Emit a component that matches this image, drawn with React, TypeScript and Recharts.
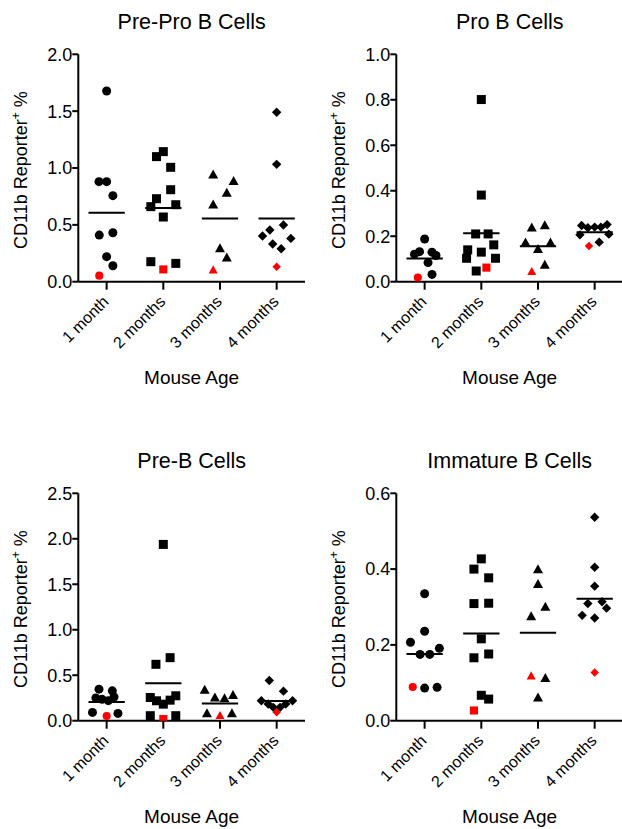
import React from "react";
import { ScatterChart, Scatter, XAxis, YAxis, ReferenceLine } from "recharts";

const FONT = "'Liberation Sans', Arial, Helvetica, sans-serif";

const MONTHS = ["1 month", "2 months", "3 months", "4 months"];

// ---- Pre-Pro B Cells ----
const preProValues = [
  [1.677, 0.88, 0.88, 0.757, 0.41, 0.431, 0.22, 0.14, 0.053],
  [1.1, 1.144, 1.006, 0.809, 0.73, 0.66, 0.677, 0.569, 0.176, 0.108, 0.161],
  [0.94, 0.883, 0.78, 0.677, 0.293, 0.211, 0.103],
  [1.49, 1.032, 0.402, 0.455, 0.499, 0.331, 0.29, 0.381, 0.132],
];
const preProJitter = [
  [0, -0.135, 0, 0.11, -0.13, 0.11, 0, 0.11, -0.13],
  [-0.12, 0, 0.13, 0.13, -0.12, -0.22, 0.22, 0, -0.22, 0, 0.22],
  [-0.12, 0.24, 0.12, -0.12, 0, 0.12, -0.12],
  [0, 0, -0.25, -0.12, 0.12, -0.07, 0.08, 0.25, 0],
];
const preProRed = [8, 9, 6, 8];
const preProTicks = [0, 0.5, 1, 1.5, 2];

// ---- Pro B Cells ----
const proBValues = [
  [0.188, 0.121, 0.132, 0.13, 0.115, 0.084, 0.032, 0.018],
  [0.801, 0.381, 0.21, 0.21, 0.162, 0.14, 0.13, 0.103, 0.103, 0.047, 0.062],
  [0.237, 0.247, 0.172, 0.172, 0.143, 0.074, 0.044],
  [0.247, 0.237, 0.24, 0.24, 0.251, 0.206, 0.209, 0.174, 0.157],
];
const proBJitter = [
  [0, -0.18, -0.09, 0.13, 0.2, 0.06, 0.13, -0.12],
  [0, 0, -0.1, 0.12, 0.22, -0.24, 0, -0.26, 0.25, -0.09, 0.09],
  [-0.11, 0.12, -0.22, 0.22, 0, 0.12, -0.11],
  [-0.23, -0.12, 0, 0.11, 0.22, -0.26, 0.25, 0.08, -0.1],
];
const proBRed = [7, 10, 6, 8];
const proBTicks = [0, 0.2, 0.4, 0.6, 0.8, 1.0];

// ---- Pre-B Cells ----
const preBValues = [
  [0.347, 0.328, 0.25, 0.235, 0.22, 0.26, 0.091, 0.08, 0.051],
  [1.938, 0.62, 0.693, 0.255, 0.219, 0.182, 0.226, 0.274, 0.055, 0.055, 0.018],
  [0.339, 0.252, 0.245, 0.281, 0.08, 0.08, 0.055],
  [0.442, 0.325, 0.219, 0.183, 0.147, 0.147, 0.183, 0.219, 0.092],
];
const preBJitter = [
  [-0.135, 0.1, -0.19, -0.08, 0.03, 0.13, -0.25, 0.2, 0],
  [0, -0.13, 0.12, -0.23, -0.12, 0, 0.12, 0.22, -0.23, 0.22, 0],
  [-0.27, -0.09, 0.08, 0.23, -0.23, 0.21, 0],
  [-0.13, 0.12, -0.27, -0.15, -0.06, 0.06, 0.16, 0.28, 0],
];
const preBRed = [8, 10, 6, 8];
const preBTicks = [0, 0.5, 1, 1.5, 2, 2.5];

// ---- Immature B Cells ----
const immValues = [
  [0.335, 0.236, 0.207, 0.191, 0.175, 0.175, 0.089, 0.086, 0.088],
  [0.427, 0.4, 0.377, 0.309, 0.31, 0.216, 0.166, 0.176, 0.067, 0.057, 0.027],
  [0.399, 0.36, 0.3, 0.275, 0.118, 0.112, 0.061],
  [0.537, 0.405, 0.355, 0.309, 0.314, 0.278, 0.297, 0.271, 0.127],
];
const immJitter = [
  [0, 0, -0.25, 0.26, -0.08, 0.09, -0.21, 0, 0.22],
  [0, -0.13, 0.13, -0.13, 0.13, 0, -0.13, 0.13, 0, 0.13, -0.13],
  [0, 0, 0.13, -0.12, -0.12, 0.13, 0],
  [0, 0, 0, -0.12, 0.13, -0.22, 0.21, 0, 0],
];
const immRed = [6, 10, 4, 8];
const immTicks = [0, 0.2, 0.4, 0.6];

const SHAPES = ["circle", "square", "triangle", "diamond"];

function makeShape(kind: string) {
  return (props: any) => {
    const { cx, cy, payload } = props;
    if (cx == null || cy == null) return <g />;
    const red = payload && payload.red;
    const fill = red ? "#ff0000" : "#000000";
    const k = red ? 0.9 : 1;
    if (kind === "circle") return <circle cx={cx} cy={cy} r={4.5 * k} fill={fill} />;
    if (kind === "square") {
      const s = 9 * k;
      return <rect x={cx - s / 2} y={cy - s / 2} width={s} height={s} fill={fill} />;
    }
    if (kind === "triangle") {
      const w = 5 * k;
      const t = 5.2 * k;
      const b = 3.8 * k;
      return <polygon points={`${cx},${cy - t} ${cx + w},${cy + b} ${cx - w},${cy + b}`} fill={fill} />;
    }
    const d = 4.7 * k;
    return <polygon points={`${cx},${cy - d} ${cx + d},${cy} ${cx},${cy + d} ${cx - d},${cy}`} fill={fill} />;
  };
}

function XTick(props: any) {
  const { x, y, payload } = props;
  const ax = x + 3;
  const ay = y + 13;
  return (
    <text
      x={ax}
      y={ay}
      transform={`rotate(-45 ${ax} ${ay})`}
      textAnchor="end"
      fontSize={16}
      fontFamily={FONT}
      fill="#000"
    >
      {MONTHS[payload.value - 1]}
    </text>
  );
}

function YLabel(props: any) {
  const vb = props.viewBox || {};
  const x = 27;
  const y = (vb.y || 0) + (vb.height || 0) / 2 + 2;
  return (
    <text
      x={x}
      y={y}
      transform={`rotate(-90 ${x} ${y})`}
      textAnchor="middle"
      fontSize={18}
      fontFamily={FONT}
      fill="#000"
    >
      <tspan>CD11b Reporter</tspan>
      <tspan fontSize={12} dy={-7}>+</tspan>
      <tspan dy={7}> %</tspan>
    </text>
  );
}

function XLabel(props: any) {
  const vb = props.viewBox || {};
  return (
    <text
      x={vb.x + vb.width / 2}
      y={vb.y + 102.5}
      textAnchor="middle"
      fontSize={19}
      fontFamily={FONT}
      fill="#000"
    >
      Mouse Age
    </text>
  );
}

type PanelProps = {
  title: string;
  values: number[][];
  jitter: number[][];
  red: number[];
  ticks: number[];
  left: number;
  top: number;
};

function Panel({ title, values, jitter, red, ticks, left, top }: PanelProps) {
  const max = ticks[ticks.length - 1];
  const groups = values.map((vals, g) =>
    vals.map((v, i) => ({ x: g + 1 + jitter[g][i], y: v, red: i === red[g] }))
  );
  const means = values.map((vals) => vals.reduce((a, b) => a + b, 0) / vals.length);
  return (
    <div style={{ position: "absolute", left, top, width: 311, height: 400 }}>
      <svg
        width={311}
        height={40}
        style={{ position: "absolute", left: 0, top: 0, overflow: "visible" }}
      >
        <text x={191.7} y={28.8} textAnchor="middle" fontSize={21.5} fontFamily={FONT} fill="#000">
          {title}
        </text>
      </svg>
      <div style={{ position: "absolute", left: 0, top: 0 }}>
        <ScatterChart width={311} height={400} margin={{ top: 54.3, right: 6, bottom: 0, left: 0 }}>
          <XAxis
            type="number"
            dataKey="x"
            domain={[0.5, 4.5]}
            ticks={[1, 2, 3, 4]}
            interval={0}
            allowDataOverflow
            height={118.3}
            tickSize={8}
            tickMargin={0}
            axisLine={{ stroke: "#000", strokeWidth: 2 }}
            tickLine={{ stroke: "#000", strokeWidth: 2 }}
            tick={<XTick />}
            label={(p: any) => <XLabel {...p} />}
          />
          <YAxis
            type="number"
            dataKey="y"
            domain={[0, max]}
            ticks={ticks}
            interval={0}
            allowDataOverflow
            width={78.3}
            tickSize={6}
            tickMargin={0}
            axisLine={{ stroke: "#000", strokeWidth: 2 }}
            tickLine={{ stroke: "#000", strokeWidth: 2 }}
            tick={{ fill: "#000", fontSize: 18, fontFamily: FONT }}
            tickFormatter={(v: number) => v.toFixed(1)}
            label={(p: any) => <YLabel {...p} />}
          />
          {groups.map((data, g) => (
            <Scatter
              key={"s" + g}
              data={data}
              isAnimationActive={false}
              shape={makeShape(SHAPES[g])}
            />
          ))}
          {means.map((m, g) => (
            <ReferenceLine
              key={"m" + g}
              segment={[
                { x: g + 1 - 0.32, y: m },
                { x: g + 1 + 0.32, y: m },
              ]}
              stroke="#000"
              strokeWidth={2}
            />
          ))}
        </ScatterChart>
      </div>
    </div>
  );
}

export default function App() {
  return (
    <div
      style={{
        position: "absolute",
        left: 0,
        top: 0,
        width: 622,
        height: 829,
        overflow: "hidden",
        background: "#fff",
      }}
    >
      <Panel title="Pre-Pro B Cells" values={preProValues} jitter={preProJitter} red={preProRed} ticks={preProTicks} left={0} top={0} />
      <Panel title="Pro B Cells" values={proBValues} jitter={proBJitter} red={proBRed} ticks={proBTicks} left={318.4} top={0} />
      <Panel title="Pre-B Cells" values={preBValues} jitter={preBJitter} red={preBRed} ticks={preBTicks} left={0} top={439} />
      <Panel title="Immature B Cells" values={immValues} jitter={immJitter} red={immRed} ticks={immTicks} left={318.4} top={439} />
    </div>
  );
}
